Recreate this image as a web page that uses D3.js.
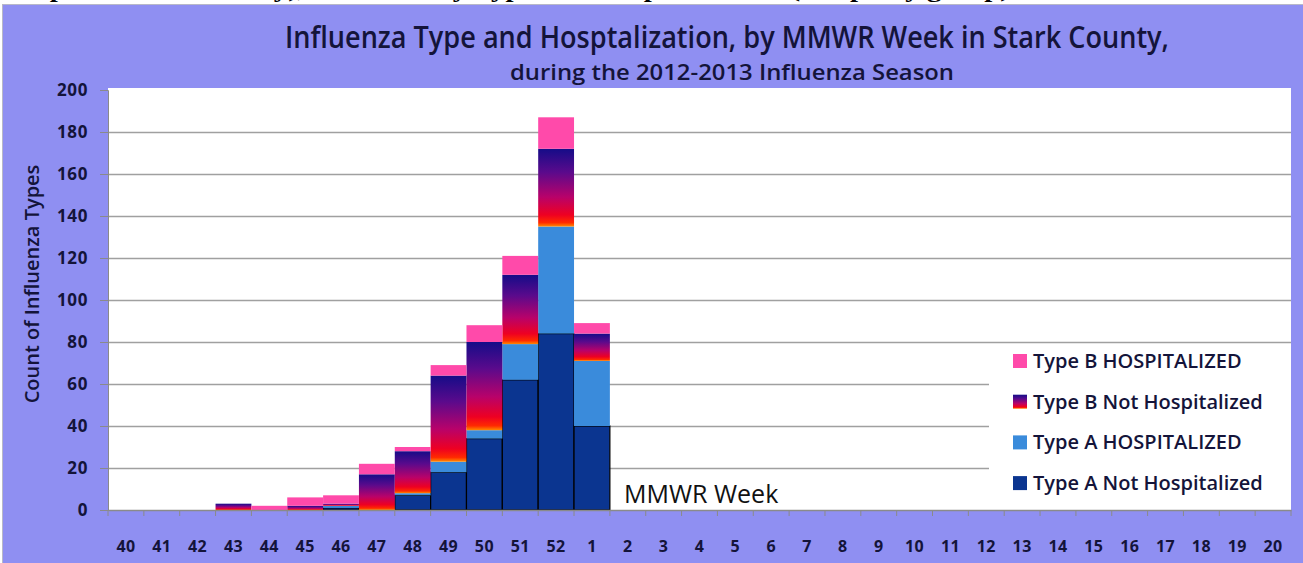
<!DOCTYPE html>
<html lang="en">
	<head>
		<meta charset="utf-8">
		<title>Influenza Type and Hospitalization by MMWR Week</title>
		<script type="text/javascript" src="https://cdn.jsdelivr.net/npm/d3@7"></script>
		<style type="text/css">
			body { margin: 0; background: #fff; }
			svg { display: block; }
		</style>
	</head>
	<body>
		<script type="text/javascript">
			var weeks = ["40", "41", "42", "43", "44", "45", "46", "47", "48", "49", "50", "51", "52",
						"1", "2", "3", "4", "5", "6", "7", "8", "9", "10", "11", "12", "13", "14",
						"15", "16", "17", "18", "19", "20"];
			var typeANotHosp = [0, 0, 0, 0, 0, 0, 1, 0, 7, 18, 34, 62, 84, 40,
								0, 0, 0, 0, 0, 0, 0, 0, 0, 0, 0, 0, 0, 0, 0, 0, 0, 0, 0];
			var typeAHosp    = [0, 0, 0, 0, 0, 0, 1, 0, 1, 5, 4, 17, 51, 31,
								0, 0, 0, 0, 0, 0, 0, 0, 0, 0, 0, 0, 0, 0, 0, 0, 0, 0, 0];
			var typeBNotHosp = [0, 0, 0, 3, 0, 2, 1, 17, 20, 41, 42, 33, 37, 13,
								0, 0, 0, 0, 0, 0, 0, 0, 0, 0, 0, 0, 0, 0, 0, 0, 0, 0, 0];
			var typeBHosp    = [0, 0, 0, 0, 2, 4, 4, 5, 2, 5, 8, 9, 15, 5,
								0, 0, 0, 0, 0, 0, 0, 0, 0, 0, 0, 0, 0, 0, 0, 0, 0, 0, 0];
			var seriesNames = ["Type A Not Hospitalized", "Type A HOSPITALIZED",
								"Type B Not Hospitalized", "Type B HOSPITALIZED"];
			var yTicks = [0, 20, 40, 60, 80, 100, 120, 140, 160, 180, 200];

			var w = 1303;
			var h = 563;
			var plot = { left: 108, right: 1291, top: 88, bottom: 510 };
			var ink = "#14143a";
			var font = "'Open Sans', 'Noto Sans', sans-serif";

			var keys = ["aNot", "aHosp", "bNot", "bHosp"];
			var table = weeks.map(function(wk, i) {
				return { week: wk, aNot: typeANotHosp[i], aHosp: typeAHosp[i],
						bNot: typeBNotHosp[i], bHosp: typeBHosp[i] };
			});
			var stacked = d3.stack().keys(keys)(table);

			var fills = { aNot: "#0b3590", aHosp: "#3a8bdb", bNot: "url(#bgrad)", bHosp: "#ff4aaa" };

			var xScale = d3.scaleBand()
							.domain(weeks)
							.range([plot.left, plot.right]);
			var yScale = d3.scaleLinear()
							.domain([0, 200])
							.range([plot.bottom, plot.bottom - 420]);

			//create svg
			var svg = d3.select("body")
							.append("svg")
							.attr("width", w)
							.attr("height", h);

			var defs = svg.append("defs");
			var grad = defs.append("linearGradient")
							.attr("id", "bgrad")
							.attr("x1", 0).attr("y1", 0)
							.attr("x2", 0).attr("y2", 1);
			[[0, "#150c88"], [0.3, "#5a0a8c"], [0.62, "#b8026a"], [0.85, "#ee0022"], [0.95, "#ff2a00"], [1, "#ff8a00"]]
				.forEach(function(s) {
					grad.append("stop").attr("offset", s[0]).attr("stop-color", s[1]);
				});

			//page header line, cut off above the chart
			svg.append("text")
				.attr("x", 0)
				.attr("y", -3)
				.attr("font-family", "'Liberation Serif', 'DejaVu Serif', serif")
				.attr("font-weight", "bold")
				.attr("font-size", "22px")
				.attr("textLength", 1010)
				.attr("lengthAdjust", "spacingAndGlyphs")
				.attr("fill", "#000")
				.text("Graph 4: Stark County), Influenza by Type and Hospitalization (Graph by group)");

			//chart background
			svg.append("rect")
				.attr("x", 2.5)
				.attr("y", 4.5)
				.attr("width", w)
				.attr("height", h)
				.attr("fill", "#8f8ff2")
				.attr("stroke", "#b8b8c8")
				.attr("stroke-width", 1);

			svg.append("rect")
				.attr("x", plot.left)
				.attr("y", plot.top)
				.attr("width", plot.right - plot.left)
				.attr("height", plot.bottom - plot.top)
				.attr("fill", "#ffffff");

			//titles
			svg.append("text")
				.attr("x", 727)
				.attr("y", 48)
				.attr("text-anchor", "middle")
				.attr("font-family", font)
				.attr("font-weight", "600")
				.attr("font-size", "30px")
				.attr("textLength", 884)
				.attr("lengthAdjust", "spacingAndGlyphs")
				.attr("fill", ink)
				.text("Influenza Type and Hosptalization, by MMWR Week in Stark County,");
			svg.append("text")
				.attr("x", 732)
				.attr("y", 80)
				.attr("text-anchor", "middle")
				.attr("font-family", font)
				.attr("font-weight", "600")
				.attr("font-size", "21px")
				.attr("textLength", 444)
				.attr("lengthAdjust", "spacingAndGlyphs")
				.attr("fill", ink)
				.text("during the 2012-2013 Influenza Season");

			//gridlines
			svg.selectAll("line.grid")
				.data(yTicks.filter(function(d) { return d > 0 && d < 200; }))
				.enter()
				.append("line")
				.attr("class", "grid")
				.attr("x1", plot.left)
				.attr("x2", plot.right)
				.attr("y1", function(d) { return Math.round(yScale(d)) + 0.5; })
				.attr("y2", function(d) { return Math.round(yScale(d)) + 0.5; })
				.attr("stroke", "#a0a0a0")
				.attr("stroke-width", 1.5);

			//legend backdrop
			svg.append("rect")
				.attr("x", 989)
				.attr("y", 345)
				.attr("width", plot.right - 989)
				.attr("height", 160)
				.attr("fill", "#ffffff");

			//create bars
			var layers = svg.selectAll("g.layer")
				.data(stacked)
				.enter()
				.append("g")
				.attr("class", "layer")
				.attr("fill", function(d) { return fills[d.key]; });
			layers.selectAll("rect")
				.data(function(d) {
					return d.map(function(p) { p.key = d.key; return p; })
							.filter(function(p) { return p[1] > p[0]; });
				})
				.enter()
				.append("rect")
				.attr("x", function(d) { return xScale(d.data.week); })
				.attr("y", function(d) { return yScale(d[1]); })
				.attr("width", xScale.bandwidth())
				.attr("height", function(d) { return yScale(d[0]) - yScale(d[1]); })
				.attr("stroke", function(d) { return d.key === "aNot" ? "#000" : "none"; })
				.attr("stroke-width", 1.2);

			//y axis
			var yAxis = d3.axisLeft(yScale)
							.tickValues(yTicks)
							.tickSize(8)
							.tickPadding(12);
			var gy = svg.append("g")
				.attr("transform", "translate(" + plot.left + ",0)")
				.call(yAxis);
			gy.select(".domain").attr("stroke", "#8a8a8a");
			gy.selectAll(".tick line").attr("stroke", "#8a8a8a");
			gy.selectAll(".tick text")
				.attr("font-family", font)
				.attr("font-weight", "bold")
				.attr("font-size", "17px")
				.attr("letter-spacing", "0.6px")
				.attr("fill", ink);

			svg.append("text")
				.attr("transform", "translate(39,284) rotate(-90)")
				.attr("text-anchor", "middle")
				.attr("font-family", font)
				.attr("font-weight", "600")
				.attr("font-size", "20px")
				.attr("fill", ink)
				.text("Count of Influenza Types");

			//x axis
			var xAxis = d3.axisBottom(xScale)
							.tickSize(0)
							.tickPadding(31);
			var gx = svg.append("g")
				.attr("transform", "translate(0," + plot.bottom + ")")
				.call(xAxis);
			gx.select(".domain").attr("stroke", "#8a8a8a").attr("stroke-width", 1.5);
			gx.selectAll(".tick text")
				.attr("font-family", font)
				.attr("font-weight", "bold")
				.attr("font-size", "16px")
				.attr("letter-spacing", "0.4px")
				.attr("fill", ink);
			gx.selectAll("line.sep")
				.data(weeks.concat(["end"]))
				.enter()
				.append("line")
				.attr("class", "sep")
				.attr("x1", function(d, i) { return plot.left + i * xScale.bandwidth(); })
				.attr("x2", function(d, i) { return plot.left + i * xScale.bandwidth(); })
				.attr("y1", 0)
				.attr("y2", 6)
				.attr("stroke", "#8a8a8a");

			svg.append("text")
				.attr("x", 624)
				.attr("y", 503)
				.attr("font-family", font)
				.attr("font-size", "25px")
				.attr("fill", "#111")
				.text("MMWR Week");

			//legend
			var legendOrder = [3, 2, 1, 0];
			var legend = svg.selectAll("g.legend")
				.data(legendOrder)
				.enter()
				.append("g")
				.attr("class", "legend")
				.attr("transform", function(d, i) {
					return "translate(1013," + (361 + i * 40.7) + ")";
				});
			legend.append("rect")
				.attr("x", 0)
				.attr("y", -7)
				.attr("width", 14)
				.attr("height", 14)
				.attr("fill", function(d) { return fills[keys[d]]; });
			legend.append("text")
				.attr("x", 20)
				.attr("y", 7)
				.attr("font-family", font)
				.attr("font-weight", "600")
				.attr("font-size", "20px")
				.attr("fill", ink)
				.text(function(d) { return seriesNames[d]; });
		</script>
	</body>
</html>
